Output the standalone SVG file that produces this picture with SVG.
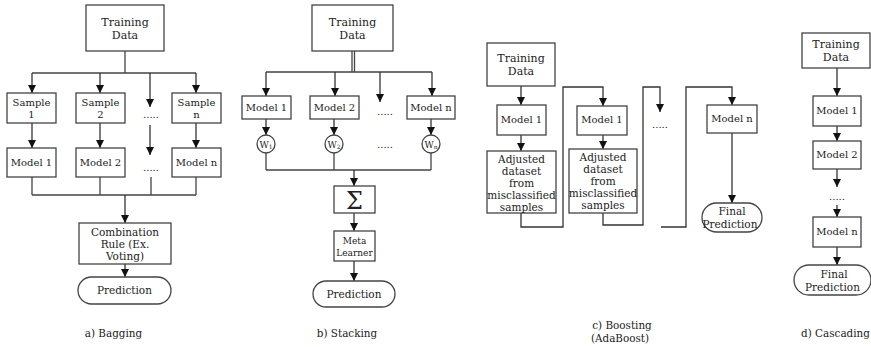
<svg xmlns="http://www.w3.org/2000/svg" width="871" height="347" viewBox="0 0 871 347">
<defs>
<marker id="ah" markerUnits="userSpaceOnUse" markerWidth="8" markerHeight="10" refX="8" refY="4" orient="auto">
<path d="M0,0 L8,4 L0,8 Z" fill="#111"/>
</marker>
<style>
.b{fill:#fff;stroke:#444;stroke-width:1.3}
.c{fill:none;stroke:#444;stroke-width:1.3}
.a{fill:none;stroke:#333;stroke-width:1.3;marker-end:url(#ah)}
text{font-family:'DejaVu Serif','Liberation Serif',serif;font-size:10px;fill:#222;text-anchor:middle}
.s{font-size:9px}
.l{font-size:11px}
.m{font-size:10.5px}
.p{font-size:10.5px}
.cap{font-size:10.4px}
</style>
</defs>
<rect width="871" height="347" fill="#fff"/>

<g id="connectors">
<!-- Bagging -->
<path class="c" d="M125,51 V73 M32,73 H196"/>
<path class="a" d="M32,73 V93"/>
<path class="a" d="M100,73 V93"/>
<path class="a" d="M150,73 V107"/>
<path class="a" d="M196,73 V93"/>
<path class="a" d="M32,123 V148"/>
<path class="a" d="M100,123 V148"/>
<path class="a" d="M150,125 V155"/>
<path class="a" d="M196,123 V148"/>
<path class="c" d="M32,177 V195 M100,177 V195 M151,177 V195 M196,177 V195 M32,195 H196"/>
<path class="a" d="M125,195 V223"/>
<path class="a" d="M125,264 V277"/>
<!-- Stacking -->
<path class="c" d="M352,51 V72 M354.5,51 V72 M266,72 H432"/>
<path class="a" d="M266,72 V96"/>
<path class="a" d="M335,72 V96"/>
<path class="a" d="M380,72 V102"/>
<path class="a" d="M432,72 V96"/>
<path class="a" d="M266,119 V135"/>
<path class="a" d="M334,119 V135"/>
<path class="a" d="M431,119 V135"/>
<path class="c" d="M266,153 V170 M334,153 V170 M431,153 V170 M266,170 H431"/>
<path class="a" d="M354,170 V186"/>
<path class="a" d="M354,213 V231"/>
<path class="a" d="M354,261 V281"/>
<!-- Boosting -->
<path class="a" d="M521,86 V105"/>
<path class="a" d="M521,135 V151"/>
<path class="a" d="M521,213 V227 H563 V87 H603 V106"/>
<path class="a" d="M603,135 V149"/>
<path class="a" d="M603,213 V225 H643 V87 H660 V112"/>
<path class="a" d="M661,227 H686 V87 H732 V105"/>
<path class="a" d="M732,133 V203"/>
<!-- Cascading -->
<path class="a" d="M837,68 V96"/>
<path class="a" d="M837,126 V141"/>
<path class="a" d="M837,169 V187"/>
<path class="a" d="M837,205 V217"/>
<path class="a" d="M837,247 V265"/>
</g>

<!-- Bagging nodes -->
<g id="bag-training"><rect class="b" x="86" y="5" width="78" height="46"/><text x="125" y="26" class="l">Training</text><text x="125" y="39" class="l">Data</text></g>
<g id="bag-sample1"><rect class="b" x="7" y="93" width="49" height="30"/><text x="31.5" y="106">Sample</text><text x="31.5" y="118">1</text></g>
<g id="bag-sample2"><rect class="b" x="76" y="93" width="49" height="30"/><text x="100.5" y="106">Sample</text><text x="100.5" y="118">2</text></g>
<g id="bag-dots1"><text x="151" y="118">.....</text></g>
<g id="bag-samplen"><rect class="b" x="172" y="93" width="49" height="30"/><text x="196.5" y="106">Sample</text><text x="196.5" y="118">n</text></g>
<g id="bag-model1"><rect class="b" x="7" y="148" width="49" height="29"/><text x="31.5" y="166">Model 1</text></g>
<g id="bag-model2"><rect class="b" x="76" y="148" width="49" height="29"/><text x="100.5" y="166">Model 2</text></g>
<g id="bag-dots2"><text x="151" y="171">.....</text></g>
<g id="bag-modeln"><rect class="b" x="172" y="148" width="49" height="29"/><text x="196.5" y="166">Model n</text></g>
<g id="bag-combination"><rect class="b" x="79" y="223" width="92" height="41"/><text x="125" y="235.5" class="m">Combination</text><text x="125" y="247.5" class="m">Rule (Ex.</text><text x="125" y="259.5" class="m">Voting)</text></g>
<g id="bag-prediction"><rect class="b" x="78" y="277" width="93" height="27" rx="13.5"/><text x="124.5" y="294" class="p">Prediction</text></g>
<g id="bag-caption"><text x="113.5" y="337" class="cap">a) Bagging</text></g>

<!-- Stacking nodes -->
<g id="stk-training"><rect class="b" x="312" y="5" width="81" height="46"/><text x="352.5" y="26" class="l">Training</text><text x="352.5" y="39" class="l">Data</text></g>
<g id="stk-model1"><rect class="b" x="242" y="96" width="49" height="23"/><text x="266.5" y="111">Model 1</text></g>
<g id="stk-model2"><rect class="b" x="310" y="96" width="49" height="23"/><text x="334.5" y="111">Model 2</text></g>
<g id="stk-dots1"><text x="385" y="115">.....</text></g>
<g id="stk-modeln"><rect class="b" x="407" y="96" width="48" height="23"/><text x="431" y="111">Model n</text></g>
<g id="stk-w1"><circle class="b" cx="266" cy="144" r="9"/><text x="266" y="147.5" class="s">W<tspan font-size="6" dy="1.5">1</tspan></text></g>
<g id="stk-w2"><circle class="b" cx="334" cy="144" r="9"/><text x="334" y="147.5" class="s">W<tspan font-size="6" dy="1.5">2</tspan></text></g>
<g id="stk-dots2"><text x="385" y="148">.....</text></g>
<g id="stk-wn"><circle class="b" cx="431" cy="144" r="9"/><text x="431" y="147.5" class="s">W<tspan font-size="6" dy="1.5">n</tspan></text></g>
<g id="stk-sum"><rect class="b" x="334" y="186" width="41" height="27"/><text x="354.5" y="209" style="font-size:24px">Σ</text></g>
<g id="stk-meta"><rect class="b" x="334" y="231" width="41" height="30"/><text x="354.5" y="244" class="s">Meta</text><text x="354.5" y="256" class="s">Learner</text></g>
<g id="stk-prediction"><rect class="b" x="313" y="281" width="82" height="26" rx="13"/><text x="354" y="298" class="p">Prediction</text></g>
<g id="stk-caption"><text x="347" y="337" class="cap">b) Stacking</text></g>

<!-- Boosting nodes -->
<g id="bst-training"><rect class="b" x="487" y="43" width="68" height="43"/><text x="521" y="62" class="l">Training</text><text x="521" y="75" class="l">Data</text></g>
<g id="bst-model1"><rect class="b" x="497" y="105" width="49" height="30"/><text x="521.5" y="123">Model 1</text></g>
<g id="bst-adj1"><rect class="b" x="487" y="151" width="69" height="62"/><text x="521.5" y="163" class="m">Adjusted</text><text x="521.5" y="175" class="m">dataset</text><text x="521.5" y="187" class="m">from</text><text x="521.5" y="199" class="m">misclassified</text><text x="521.5" y="211" class="m">samples</text></g>
<g id="bst-model2"><rect class="b" x="577" y="106" width="50" height="29"/><text x="602" y="123">Model 1</text></g>
<g id="bst-adj2"><rect class="b" x="569" y="149" width="68" height="64"/><text x="603" y="161" class="m">Adjusted</text><text x="603" y="173" class="m">dataset</text><text x="603" y="185" class="m">from</text><text x="603" y="197" class="m">misclassified</text><text x="603" y="209" class="m">samples</text></g>
<g id="bst-dots"><text x="660" y="128">.....</text></g>
<g id="bst-modeln"><rect class="b" x="707" y="105" width="50" height="28"/><text x="732" y="122">Model n</text></g>
<g id="bst-final"><rect class="b" x="702" y="203" width="60" height="29" rx="14.5"/><text x="732" y="215" class="p">Final</text><text x="730" y="228" class="p">Prediction</text></g>
<g id="bst-caption"><text x="622" y="329" class="cap">c) Boosting</text><text x="620" y="342" class="cap">(AdaBoost)</text></g>

<!-- Cascading nodes -->
<g id="cas-training"><rect class="b" x="802" y="33" width="68" height="35"/><text x="836" y="48" class="l">Training</text><text x="836" y="61" class="l">Data</text></g>
<g id="cas-model1"><rect class="b" x="813" y="96" width="48" height="30"/><text x="837" y="114">Model 1</text></g>
<g id="cas-model2"><rect class="b" x="813" y="141" width="48" height="28"/><text x="837" y="158">Model 2</text></g>
<g id="cas-dots"><text x="837" y="200">.....</text></g>
<g id="cas-modeln"><rect class="b" x="813" y="217" width="48" height="30"/><text x="837" y="235">Model n</text></g>
<g id="cas-final"><rect class="b" x="794" y="265" width="77" height="30" rx="15"/><text x="834" y="278" class="p">Final</text><text x="832.5" y="291" class="p">Prediction</text></g>
<g id="cas-caption"><text x="835.5" y="337" class="cap">d) Cascading</text></g>
</svg>
